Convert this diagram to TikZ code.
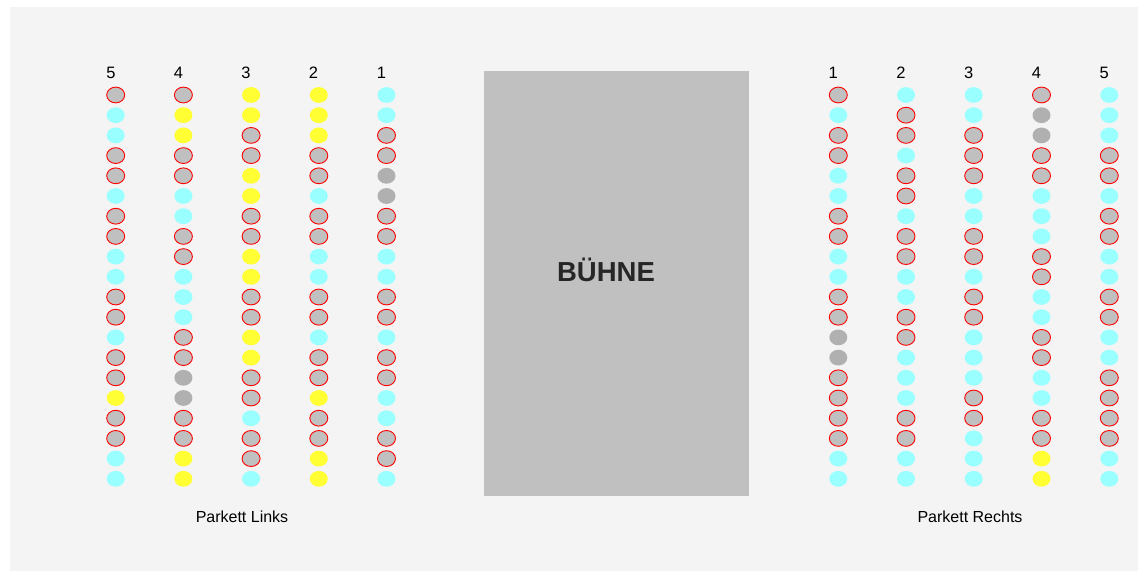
\documentclass[tikz,border=0pt]{standalone}
\usepackage{fontspec}
\setmainfont{Liberation Sans}
\definecolor{hintergrund}{HTML}{F4F4F4}
\definecolor{buehne}{HTML}{C0C0C0}
\definecolor{frei}{HTML}{99FFFF}
\definecolor{belegt}{HTML}{C0C0C0}
\definecolor{gesperrt}{HTML}{B0B0B0}
\definecolor{reserviert}{HTML}{FFFF33}
\tikzset{platz R/.style={fill=belegt,draw=red,line width=0.9pt},
	platz C/.style={fill=frei},
	platz Y/.style={fill=reserviert},
	platz G/.style={fill=gesperrt},
	reihe/.style={inner sep=0pt,font=\fontsize{16.5}{18}\selectfont}}
\newcommand{\platz}[3]{\path[platz #3] (#1,{95+20.2*(#2-1)}) ellipse (9 and 7.9)}

\begin{document}
\begin{tikzpicture}[x=1pt,y=-1pt]
	\useasboundingbox (0,0) rectangle (1141,571);
	\fill[hintergrund] (10,7) rectangle (1138,571);
	\fill[buehne] (484,71) rectangle (749,496);
	\node[font=\bfseries\fontsize{27.5}{30}\selectfont,text=black!85] (buehne) at (606,269.5) {BÜHNE};
	% Parkett links
		\node[reihe] (l5) at (111,72.5) {5};
		\node[reihe] (l4) at (178.5,72.5) {4};
		\node[reihe] (l3) at (246,72.5) {3};
		\node[reihe] (l2) at (313.5,72.5) {2};
		\node[reihe] (l1) at (381.5,72.5) {1};
			\foreach \s [count=\r] in {R,C,C,R,R,C,R,R,C,C,R,R,C,R,R,Y,R,R,C,C} \platz{115.7}{\r}{\s};
			\foreach \s [count=\r] in {R,Y,Y,R,R,C,C,R,R,C,C,C,R,R,G,G,R,R,Y,Y} \platz{183.4}{\r}{\s};
			\foreach \s [count=\r] in {Y,Y,R,R,Y,Y,R,R,Y,Y,R,R,Y,Y,R,R,C,R,R,C} \platz{251.1}{\r}{\s};
			\foreach \s [count=\r] in {Y,Y,Y,R,R,C,R,R,C,C,R,R,C,R,R,Y,R,R,Y,Y} \platz{318.8}{\r}{\s};
			\foreach \s [count=\r] in {C,C,R,R,G,G,R,R,C,C,R,R,C,R,R,C,C,R,R,C} \platz{386.5}{\r}{\s};
		\node[font=\fontsize{16}{18}\selectfont] (links) at (242,517) {Parkett Links};
	% Parkett rechts
		\node[reihe] (r1) at (833.3,72.5) {1};
		\node[reihe] (r2) at (901,72.5) {2};
		\node[reihe] (r3) at (968.7,72.5) {3};
		\node[reihe] (r4) at (1036.5,72.5) {4};
		\node[reihe] (r5) at (1104.3,72.5) {5};
			\foreach \s [count=\r] in {R,C,R,R,C,C,R,R,C,C,R,R,G,G,R,R,R,R,C,C} \platz{838.3}{\r}{\s};
			\foreach \s [count=\r] in {C,R,R,C,R,R,C,R,R,C,C,R,R,C,C,C,R,R,C,C} \platz{906}{\r}{\s};
			\foreach \s [count=\r] in {C,C,R,R,R,C,C,R,R,C,R,R,C,C,C,R,R,C,C,C} \platz{973.7}{\r}{\s};
			\foreach \s [count=\r] in {R,G,G,R,R,C,C,C,R,R,C,C,R,R,C,C,R,R,Y,Y} \platz{1041.5}{\r}{\s};
			\foreach \s [count=\r] in {C,C,C,R,R,C,R,R,C,C,R,R,C,C,R,R,R,R,C,C} \platz{1109.3}{\r}{\s};
		\node[font=\fontsize{16}{18}\selectfont] (rechts) at (970,517) {Parkett Rechts};
\end{tikzpicture}
\end{document}
